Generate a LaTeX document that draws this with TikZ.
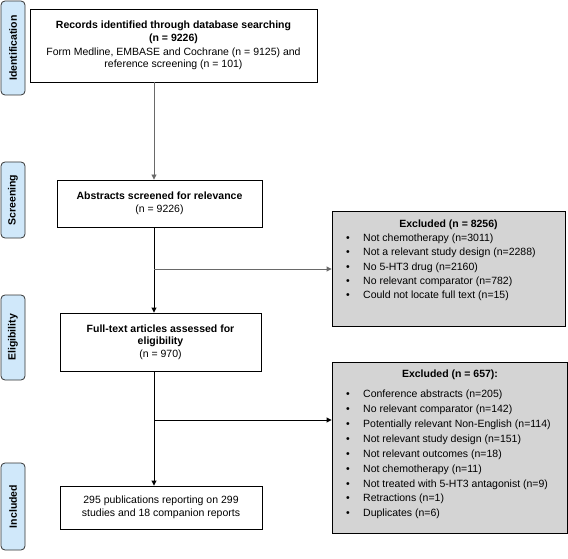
\documentclass[tikz,border=0pt]{standalone}
\usepackage{fontspec}
\setmainfont{Liberation Sans}
\usetikzlibrary{arrows.meta,positioning}

\definecolor{celeste}{RGB}{208,232,250}
\definecolor{grisclaro}{RGB}{212,212,212}
\definecolor{grisflecha}{RGB}{105,105,105}

\newcommand{\punto}{\makebox[17pt][l]{\textbullet}}

\begin{document}
\begin{tikzpicture}[x=1pt, y=-1pt,
    caja/.style={draw, line width=0.9pt, fill=white, align=center, inner sep=0pt,
                 font=\fontsize{10.5}{12.5}\selectfont},
    etapa/.style={draw=black!80, line width=0.8pt, fill=celeste, rounded corners=4pt,
                  rotate=90, inner sep=0pt, font=\fontsize{10.5}{12}\selectfont\bfseries},
    excluido/.style={draw, line width=0.9pt, fill=grisclaro, inner sep=0pt},
    flecha/.style={line width=0.9pt, -{Triangle[length=5pt,width=5pt]}}]
    \useasboundingbox (0,0) rectangle (568,559);

    % Etapas
    \node[etapa, minimum width=94, minimum height=24] (ident) at (13,48) {Identification};
    \node[etapa, minimum width=76, minimum height=24] (screen) at (13,200) {Screening};
    \node[etapa, minimum width=85, minimum height=24] (elig) at (13,337.5) {Eligibility};
    \node[etapa, minimum width=87, minimum height=24] (incl) at (13,506.5) {Included};

    % Cajas principales
    \node[caja, minimum width=287, minimum height=73] (records) at (173.5,45.5)
        {\textbf{Records identified through database searching}\\
         \textbf{(n = 9226)}\\[1.5pt]
         Form Medline, EMBASE and Cochrane (n = 9125) and\\
         reference screening (n = 101)};
    \node[caja, minimum width=205, minimum height=47] (abstracts) at (159.5,203.5)
        {\textbf{Abstracts screened for relevance}\\(n = 9226)};
    \node[caja, minimum width=201, minimum height=58] (fulltext) at (160.5,342)
        {\textbf{Full-text articles assessed for}\\\textbf{eligibility}\\(n = 970)};
    \node[caja, minimum width=202, minimum height=43] (included) at (161,507.5)
        {295 publications reporting on 299\\studies and 18 companion reports};

    % Excluidos
    \node[excluido, minimum width=233, minimum height=115] (excl1) at (448.5,268.5) {};
    \node[font=\fontsize{10.5}{12}\selectfont\bfseries] (excl1head) at (448.5,225)
        {Excluded (n = 8256)};
    \node[anchor=west, align=left, inner sep=0pt, font=\fontsize{10.5}{14.3}\selectfont]
        (excl1list) at (346,267.5)
        {\punto Not chemotherapy (n=3011)\\
         \punto Not a relevant study design (n=2288)\\
         \punto No 5-HT3 drug (n=2160)\\
         \punto No relevant comparator (n=782)\\
         \punto Could not locate full text (n=15)};

    \node[excluido, minimum width=235, minimum height=171] (excl2) at (449.5,447.5) {};
    \node[font=\fontsize{10.5}{12}\selectfont\bfseries] (excl2head) at (450,375)
        {Excluded (n = 657):};
    \node[anchor=west, align=left, inner sep=0pt, font=\fontsize{10.5}{14.9}\selectfont]
        (excl2list) at (346,454.5)
        {\punto Conference abstracts (n=205)\\
         \punto No relevant comparator (n=142)\\
         \punto Potentially relevant Non-English (n=114)\\
         \punto Not relevant study design (n=151)\\
         \punto Not relevant outcomes (n=18)\\
         \punto Not chemotherapy (n=11)\\
         \punto Not treated with 5-HT3 antagonist (n=9)\\
         \punto Retractions (n=1)\\
         \punto Duplicates (n=6)};

    % Flechas
    \coordinate (eje) at (154,0);
    \coordinate (cruce1) at (154,269);
    \coordinate (cruce2) at (154,420);
    \draw[flecha, grisflecha] (records.south -| eje) -- (abstracts.north -| eje);
    \draw[flecha] (abstracts.south -| eje) -- (fulltext.north -| eje);
    \draw[flecha, grisflecha] (cruce1) -- (excl1.west |- cruce1);
    \draw[flecha] (fulltext.south -| eje) -- (included.north -| eje);
    \draw[flecha] (cruce2) -- (excl2.west |- cruce2);
\end{tikzpicture}
\end{document}
